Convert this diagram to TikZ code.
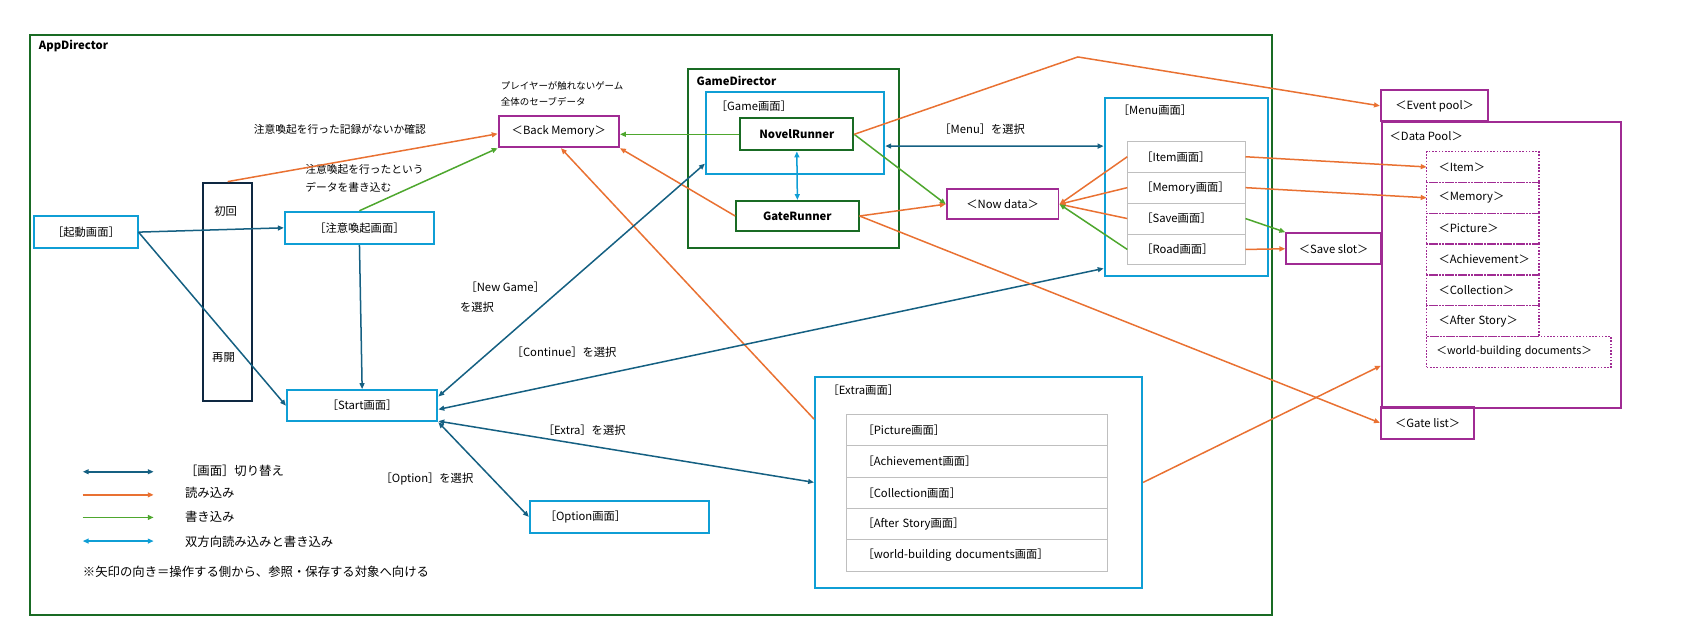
\documentclass[tikz,border=0pt]{standalone}
\usepackage{fontspec}
\setmainfont{Noto Sans CJK JP}
\usetikzlibrary{arrows.meta,positioning}
\definecolor{scrblue}{RGB}{15,158,213}
\definecolor{linkblue}{RGB}{21,96,130}
\definecolor{readorange}{RGB}{233,113,50}
\definecolor{writegreen}{RGB}{78,167,46}
\definecolor{datapurple}{RGB}{160,43,147}
\definecolor{dirgreen}{RGB}{25,107,36}
\definecolor{branchnavy}{RGB}{14,40,65}
\definecolor{rowgray}{RGB}{191,191,191}

\begin{document}
\begin{tikzpicture}[x=1pt, y=-1pt, font=\fontsize{10.5}{12}\selectfont,
    frame/.style={rectangle, draw, line width=1.8pt, anchor=north west, inner sep=0pt},
    screen/.style={rectangle, draw=scrblue, line width=1.8pt, minimum height=30pt, inner sep=0pt},
    datum/.style={rectangle, draw=datapurple, line width=1.8pt, minimum height=29pt, inner sep=0pt},
    runner/.style={rectangle, draw=dirgreen, line width=1.8pt, minimum height=30pt, inner sep=0pt, font=\fontsize{10.5}{12}\selectfont\bfseries},
    lbl/.style={anchor=west, inner sep=0pt},
    menurow/.style={rectangle, draw=rowgray, line width=0.9pt, outer sep=0pt, text width=84pt, inner xsep=13pt, inner ysep=0pt, minimum height=28.75pt, align=left},
    extrarow/.style={menurow, text width=213.4pt, inner xsep=15pt, minimum height=29.16pt},
    poolrow/.style={rectangle, draw=datapurple, line width=1.3pt, dash pattern=on 1.5pt off 1.5pt, outer sep=0pt, text width=82.4pt, inner xsep=11pt, inner ysep=0pt, minimum height=28.7pt, align=left},
    switcharrow/.style={draw=linkblue, line width=1.4pt, {Triangle[length=5.5pt,width=4.5pt]}-{Triangle[length=5.5pt,width=4.5pt]}},
    switchone/.style={draw=linkblue, line width=1.4pt, -{Triangle[length=5.5pt,width=4.5pt]}},
    readarrow/.style={draw=readorange, line width=1.4pt, -{Triangle[length=5.5pt,width=4.5pt]}},
    writearrow/.style={draw=writegreen, line width=1.4pt, -{Triangle[length=5.5pt,width=4.5pt]}},
    botharrow/.style={draw=scrblue, line width=1.4pt, {Triangle[length=5.5pt,width=4.5pt]}-{Triangle[length=5.5pt,width=4.5pt]}}]

\useasboundingbox (0,0) rectangle (1568,593);

% directors
\node[frame, draw=dirgreen, minimum width=1156pt, minimum height=539pt] (app) at (27,32) {};
\node[lbl, font=\fontsize{10.5}{12}\selectfont\bfseries] (applabel) at (36,43) {AppDirector};
\node[frame, draw=dirgreen, minimum width=197pt, minimum height=167pt] (gamedir) at (639,63) {};
\node[lbl, font=\fontsize{10.5}{12}\selectfont\bfseries] (gamedirlabel) at (648,75) {GameDirector};
\node[frame, draw=scrblue, minimum width=166pt, minimum height=76pt] (game) at (656,85) {};
\node[lbl] (gamelabel) at (666,99) {［Game画面］};
\node[runner, minimum width=105pt] (novel) at (741.5,125) {NovelRunner};
\node[runner, minimum width=114pt, minimum height=28pt] (gate) at (742,201) {GateRunner};

% start side
\node[datum, minimum width=112pt] (backmem) at (520,122.5) {＜Back Memory＞};
\node[anchor=north west, inner sep=0pt, align=left, font=\fontsize{8.8}{15}\selectfont] (backnote) at (466,75.6) {プレイヤーが触れないゲーム\\全体のセーブデータ};
\node[lbl, font=\fontsize{10}{12}\selectfont] (checknote) at (236,120) {注意喚起を行った記録がないか確認};
\node[anchor=north west, inner sep=0pt, align=left, font=\fontsize{10}{17}\selectfont] (writenote) at (284,153) {注意喚起を行ったという\\データを書き込む};
\node[screen, minimum width=96pt] (boot) at (80,216) {［起動画面］};
\node[screen, minimum width=139pt] (caution) at (334.5,212) {［注意喚起画面］};
\node[frame, draw=branchnavy, minimum width=46pt, minimum height=203pt] (branch) at (188,169) {};
\node (first) at (210,197) {初回};
\node (resume) at (208,333) {再開};
\node[screen, minimum width=140pt, minimum height=29pt] (start) at (337,377.5) {［Start画面］};
\node[screen, text width=139pt, inner xsep=14pt, align=left] (option) at (576.5,481) {［Option画面］};

% menu
\node[datum, minimum width=104pt, minimum height=28pt] (nowdata) at (933,190) {＜Now data＞};
\node[frame, draw=scrblue, minimum width=152pt, minimum height=166pt] (menu) at (1027,90) {};
\node[lbl] (menulabel) at (1040,103) {［Menu画面］};
\node[menurow, anchor=north west] (item) at (1049,131.5) {［Item画面］};
\node[menurow, below=0pt of item] (memory) {［Memory画面］};
\node[menurow, below=0pt of memory] (save) {［Save画面］};
\node[menurow, below=0pt of save] (road) {［Road画面］};

% extra
\node[frame, draw=scrblue, minimum width=304.5pt, minimum height=196pt] (extra) at (757.5,350) {};
\node[lbl] (extralabel) at (770,363.5) {［Extra画面］};
\node[extrarow, anchor=north west] (picture) at (787.6,385.6) {［Picture画面］};
\node[extrarow, below=0pt of picture] (achieve) {［Achievement画面］};
\node[extrarow, below=0pt of achieve] (collect) {［Collection画面］};
\node[extrarow, below=0pt of collect] (after) {［After Story画面］};
\node[extrarow, below=0pt of after] (world) {［world-building documents画面］};

% data
\node[datum, minimum width=88pt] (saveslot) at (1241,231.5) {＜Save slot＞};
\node[datum, minimum width=100pt] (eventpool) at (1335,98.5) {＜Event pool＞};
\node[frame, draw=datapurple, minimum width=222.5pt, minimum height=265.5pt] (datapool) at (1285,113) {};
\node[lbl] (datapoollabel) at (1293,127) {＜Data Pool＞};
\node[datum, minimum width=87pt, minimum height=30pt] (gatelist) at (1328.5,393.5) {＜Gate list＞};
\node[poolrow, anchor=north west] (pitem) at (1327.6,141) {＜Item＞};
\node[poolrow, below=0pt of pitem] (pmemory) {＜Memory＞};
\node[poolrow, below=0pt of pmemory] (ppicture) {＜Picture＞};
\node[poolrow, below=0pt of ppicture] (pachieve) {＜Achievement＞};
\node[poolrow, below=0pt of pachieve] (pcollect) {＜Collection＞};
\node[poolrow, below=0pt of pcollect] (pafter) {＜After Story＞};
\node[poolrow, text width=153.4pt, inner xsep=9pt, anchor=north west, font=\fontsize{10}{12}\selectfont] (pworld) at (pafter.south west) {\mbox{＜world-building documents＞}};

% labels on connectors
\node[lbl] (newgamelabel) at (433,267) {［New Game］};
\node[lbl] (newgamesel) at (428,286) {を選択};
\node[lbl] (continuelabel) at (476,328) {［Continue］を選択};
\node[lbl] (extrasel) at (505,400) {［Extra］を選択};
\node[lbl] (optionsel) at (354,446) {［Option］を選択};
\node[lbl] (menusel) at (874,120) {［Menu］を選択};

% connectors
\draw[switchone] (boot.east) -- (caution.west);
\draw[switchone] (boot.east) -- (start.west);
\draw[switchone] (caution.south) -- (start.north);
\draw[readarrow] (branch.north) -- ([yshift=-2pt]backmem.west);
\draw[writearrow] (caution.north) -- (backmem.south west);
\draw[writearrow] (novel.west) -- (novel.west -| backmem.east);
\draw[readarrow] (gate.west) -- (backmem.south east);
\draw[readarrow] ([yshift=-40pt]extra.north west) -- ([xshift=2pt]backmem.south);
\draw[switcharrow] ([yshift=8.5pt]start.east) -- ([yshift=10.5pt]game.south west);
\draw[switcharrow] ([yshift=-3.5pt]start.east) -- ([yshift=8pt]menu.south west);
\draw[switcharrow] ([yshift=1pt]start.south east) -- (extra.west);
\draw[switcharrow] (start.south east) -- (option.west);
\draw[botharrow] (novel.south) -- (gate.north);
\draw[switcharrow] ([yshift=-12pt]game.east) -- ([yshift=-46pt]menu.north west);
\draw[writearrow] (novel.east) -- (nowdata.west);
\draw[readarrow] (gate.east) -- (nowdata.west);
\coordinate (eventbend) at (1003,53);
\draw[readarrow] (novel.east) -- (eventbend) -- (eventpool.west);
\draw[readarrow] (gate.east) -- (gatelist.west);
\draw[readarrow] (item.west) -- (nowdata.east);
\draw[readarrow] (memory.west) -- (nowdata.east);
\draw[readarrow] (save.west) -- (nowdata.east);
\draw[writearrow] (road.west) -- (nowdata.east);
\draw[readarrow] (item.east) -- (pitem.west);
\draw[readarrow] (memory.east) -- (pmemory.west);
\draw[writearrow] (save.east) -- (saveslot.north west);
\draw[readarrow] (road.east) -- (saveslot.west);
\draw[readarrow] (extra.east) -- ([yshift=40pt]datapool.south west);

% legend
\coordinate (keyswitchA) at (77,439);
\coordinate (keyswitchB) at (143,439);
\coordinate (keyreadA) at (77,460.5);
\coordinate (keyreadB) at (143,460.5);
\coordinate (keywriteA) at (77,481.5);
\coordinate (keywriteB) at (143,481.5);
\coordinate (keybothA) at (77,503.5);
\coordinate (keybothB) at (143,503.5);
\draw[switcharrow] (keyswitchA) -- (keyswitchB);
\draw[readarrow] (keyreadA) -- (keyreadB);
\draw[writearrow] (keywriteA) -- (keywriteB);
\draw[botharrow] (keybothA) -- (keybothB);
\node[lbl, font=\fontsize{11.5}{12}\selectfont] (keyswitch) at (172,438) {［画面］切り替え};
\node[lbl, font=\fontsize{11.5}{12}\selectfont] (keyread) at (172,459) {読み込み};
\node[lbl, font=\fontsize{11.5}{12}\selectfont] (keywrite) at (172,481) {書き込み};
\node[lbl, font=\fontsize{11.5}{12}\selectfont] (keyboth) at (172,504) {双方向読み込みと書き込み};
\node[lbl, font=\fontsize{11.5}{12}\selectfont] (keynote) at (77,532) {※矢印の向き＝操作する側から、参照・保存する対象へ向ける};
\end{tikzpicture}
\end{document}
